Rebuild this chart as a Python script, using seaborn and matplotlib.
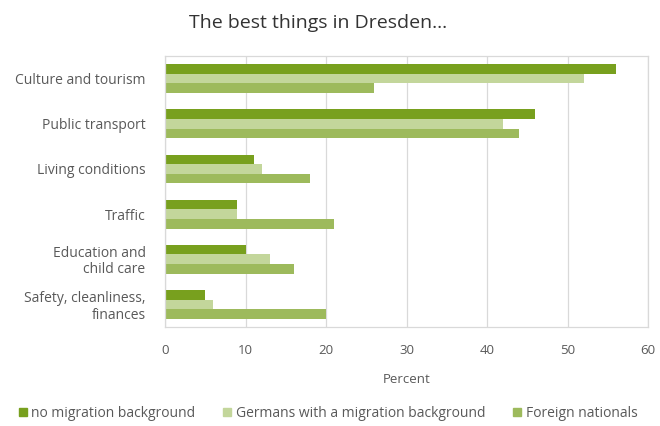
import matplotlib
matplotlib.use("Agg")
import matplotlib.pyplot as plt
import seaborn as sns
import pandas as pd
from matplotlib.lines import Line2D

categories = [
    "Culture and tourism",
    "Public transport",
    "Living conditions",
    "Traffic",
    "Education and\nchild care",
    "Safety, cleanliness,\nfinances",
]
series_names = [
    "no migration background",
    "Germans with a migration background",
    "Foreign nationals",
]
no_migration = [56, 46, 11, 9, 10, 5]
germans_migration = [52, 42, 12, 9, 13, 6]
foreign_nationals = [26, 44, 18, 21, 16, 20]
x_ticks = [0, 10, 20, 30, 40, 50, 60]

colors = ["#78a01e", "#c3d69b", "#9dba5c"]
text_color = "#595959"

rows = []
for name, vals in zip(series_names, [no_migration, germans_migration, foreign_nationals]):
    for cat, v in zip(categories, vals):
        rows.append({"Category": cat, "Group": name, "Percent": v})
df = pd.DataFrame(rows)

sns.set_style("white")
plt.rcParams["font.family"] = ["Open Sans", "DejaVu Sans"]

fig = plt.figure(figsize=(6.6, 4.26), dpi=100)
ax = fig.add_axes([0.25, 0.2324, 0.732, 0.636])

sns.barplot(
    data=df, y="Category", x="Percent", hue="Group",
    order=categories, hue_order=series_names,
    palette=colors, orient="h", width=0.64, saturation=1,
    linewidth=0, legend=False, ax=ax,
)

ax.set_xlim(0, 60)
ax.set_xticks(x_ticks)
ax.set_xticklabels([str(t) for t in x_ticks], fontsize=9.5, color=text_color)
ax.tick_params(axis="x", length=0, pad=12)
ax.tick_params(axis="y", length=0, pad=14)
ax.set_yticks(range(len(categories)))
ax.set_yticklabels(categories, fontsize=10, color=text_color, linespacing=1.1,
                   multialignment="right")
ax.set_ylabel("")
ax.set_xlabel("Percent", fontsize=9.5, color=text_color, labelpad=12)
ax.grid(axis="x", color="#d9d9d9", linewidth=0.9)
ax.set_axisbelow(True)
for s in ax.spines.values():
    s.set_color("#d9d9d9")
    s.set_linewidth(0.9)

fig.text(0.482, 0.945, "The best things in Dresden...", ha="center", va="center",
         fontsize=14, color="#333333")

handles = [Line2D([0], [0], marker="s", linestyle="", markersize=6,
                  markerfacecolor=c, markeredgecolor=c) for c in colors]
fig.legend(handles, series_names, loc="center", bbox_to_anchor=(0.495, 0.03),
           ncol=3, frameon=False, fontsize=10, labelcolor=text_color,
           handletextpad=0.1, columnspacing=1.8, handlelength=1.0)

fig.savefig("out.png", dpi=100)
